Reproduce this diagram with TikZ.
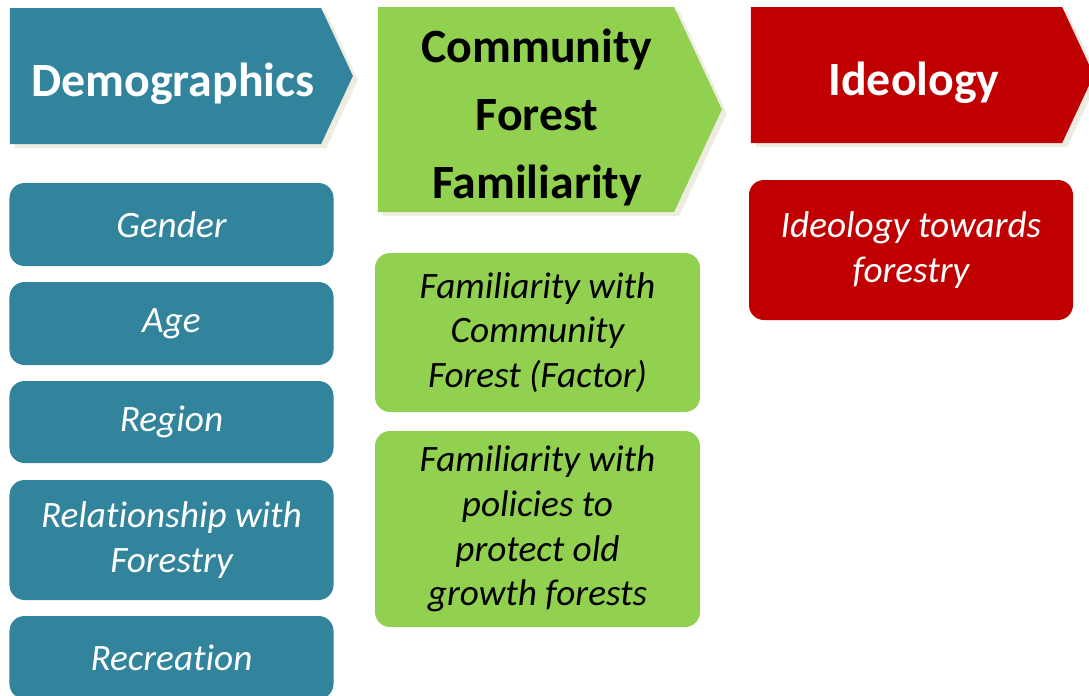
\documentclass[tikz,border=0pt]{standalone}
\usepackage{fontspec}
\setmainfont{Carlito}[Ligatures=NoCommon]
\definecolor{dmteal}{HTML}{31849B}
\definecolor{cfgreen}{HTML}{92D050}
\definecolor{idred}{HTML}{C00000}
\definecolor{chshadow}{HTML}{EEECE1}
\usetikzlibrary{positioning,shapes.symbols,shadows}

\begin{document}
\begin{tikzpicture}[
  heading/.style={shape=signal,signal to=east,signal pointer angle=130,
    minimum width=6.86cm,inner sep=0pt,
    drop shadow={shadow xshift=0.1cm,shadow yshift=-0.08cm,fill=chshadow,opacity=1}},
  headtext/.style={align=center,inner sep=0pt,
    font=\fontsize{27.2}{38.8}\selectfont\bfseries},
  item/.style={rounded corners=0.3cm,minimum width=6.48cm,inner sep=0pt,
    align=center,font=\fontsize{21.2}{25.5}\selectfont\itshape}
]
\useasboundingbox (0,0) rectangle (21.78,-13.9);
% column headings
\node[heading,fill=dmteal,minimum height=2.72cm] (demo) at (3.31,-1.52) {};
\node[headtext,text=white] (demotxt) at ([xshift=0.15cm,yshift=-0.16cm]demo.center) {Demographics};
\node[heading,fill=cfgreen,minimum height=4.1cm,minimum width=6.88cm] (fam) at (10.52,-2.19) {};
\node[headtext,text=black] (famtxt) at ([xshift=0.22cm,yshift=-0.16cm]fam.center) {Community\\Forest\\Familiarity};
\node[heading,fill=idred,minimum height=2.72cm] (ideo) at (18.13,-1.5) {};
\node[headtext,text=white] (ideotxt) at ([xshift=0.15cm,yshift=-0.16cm]ideo.center) {Ideology};
% demographics
\node[item,fill=dmteal,text=white,minimum height=1.66cm] (gender) at (3.43,-4.49) {Gender};
\node[item,fill=dmteal,text=white,minimum height=1.66cm] (age) at (3.43,-6.47) {Age};
\node[item,fill=dmteal,text=white,minimum height=1.64cm] (region) at (3.43,-8.44) {Region};
\node[item,fill=dmteal,text=white,minimum height=2.4cm] (relation) at (3.43,-10.8) {Relationship with\\Forestry};
\node[item,fill=dmteal,text=white,minimum height=1.66cm] (recreation) at (3.43,-13.15) {Recreation};
% familiarity
\node[item,fill=cfgreen,text=black,minimum width=6.5cm,minimum height=3.18cm] (famcf) at (10.75,-6.65) {Familiarity with\\Community\\Forest (Factor)};
\node[item,fill=cfgreen,text=black,minimum width=6.5cm,minimum height=3.92cm] (fampol) at (10.75,-10.58) {Familiarity with\\policies to\\protect old\\growth forests};
% ideology
\node[item,fill=idred,text=white,minimum height=2.8cm] (ideofor) at (18.22,-5.0) {Ideology towards\\forestry};
\end{tikzpicture}
\end{document}
